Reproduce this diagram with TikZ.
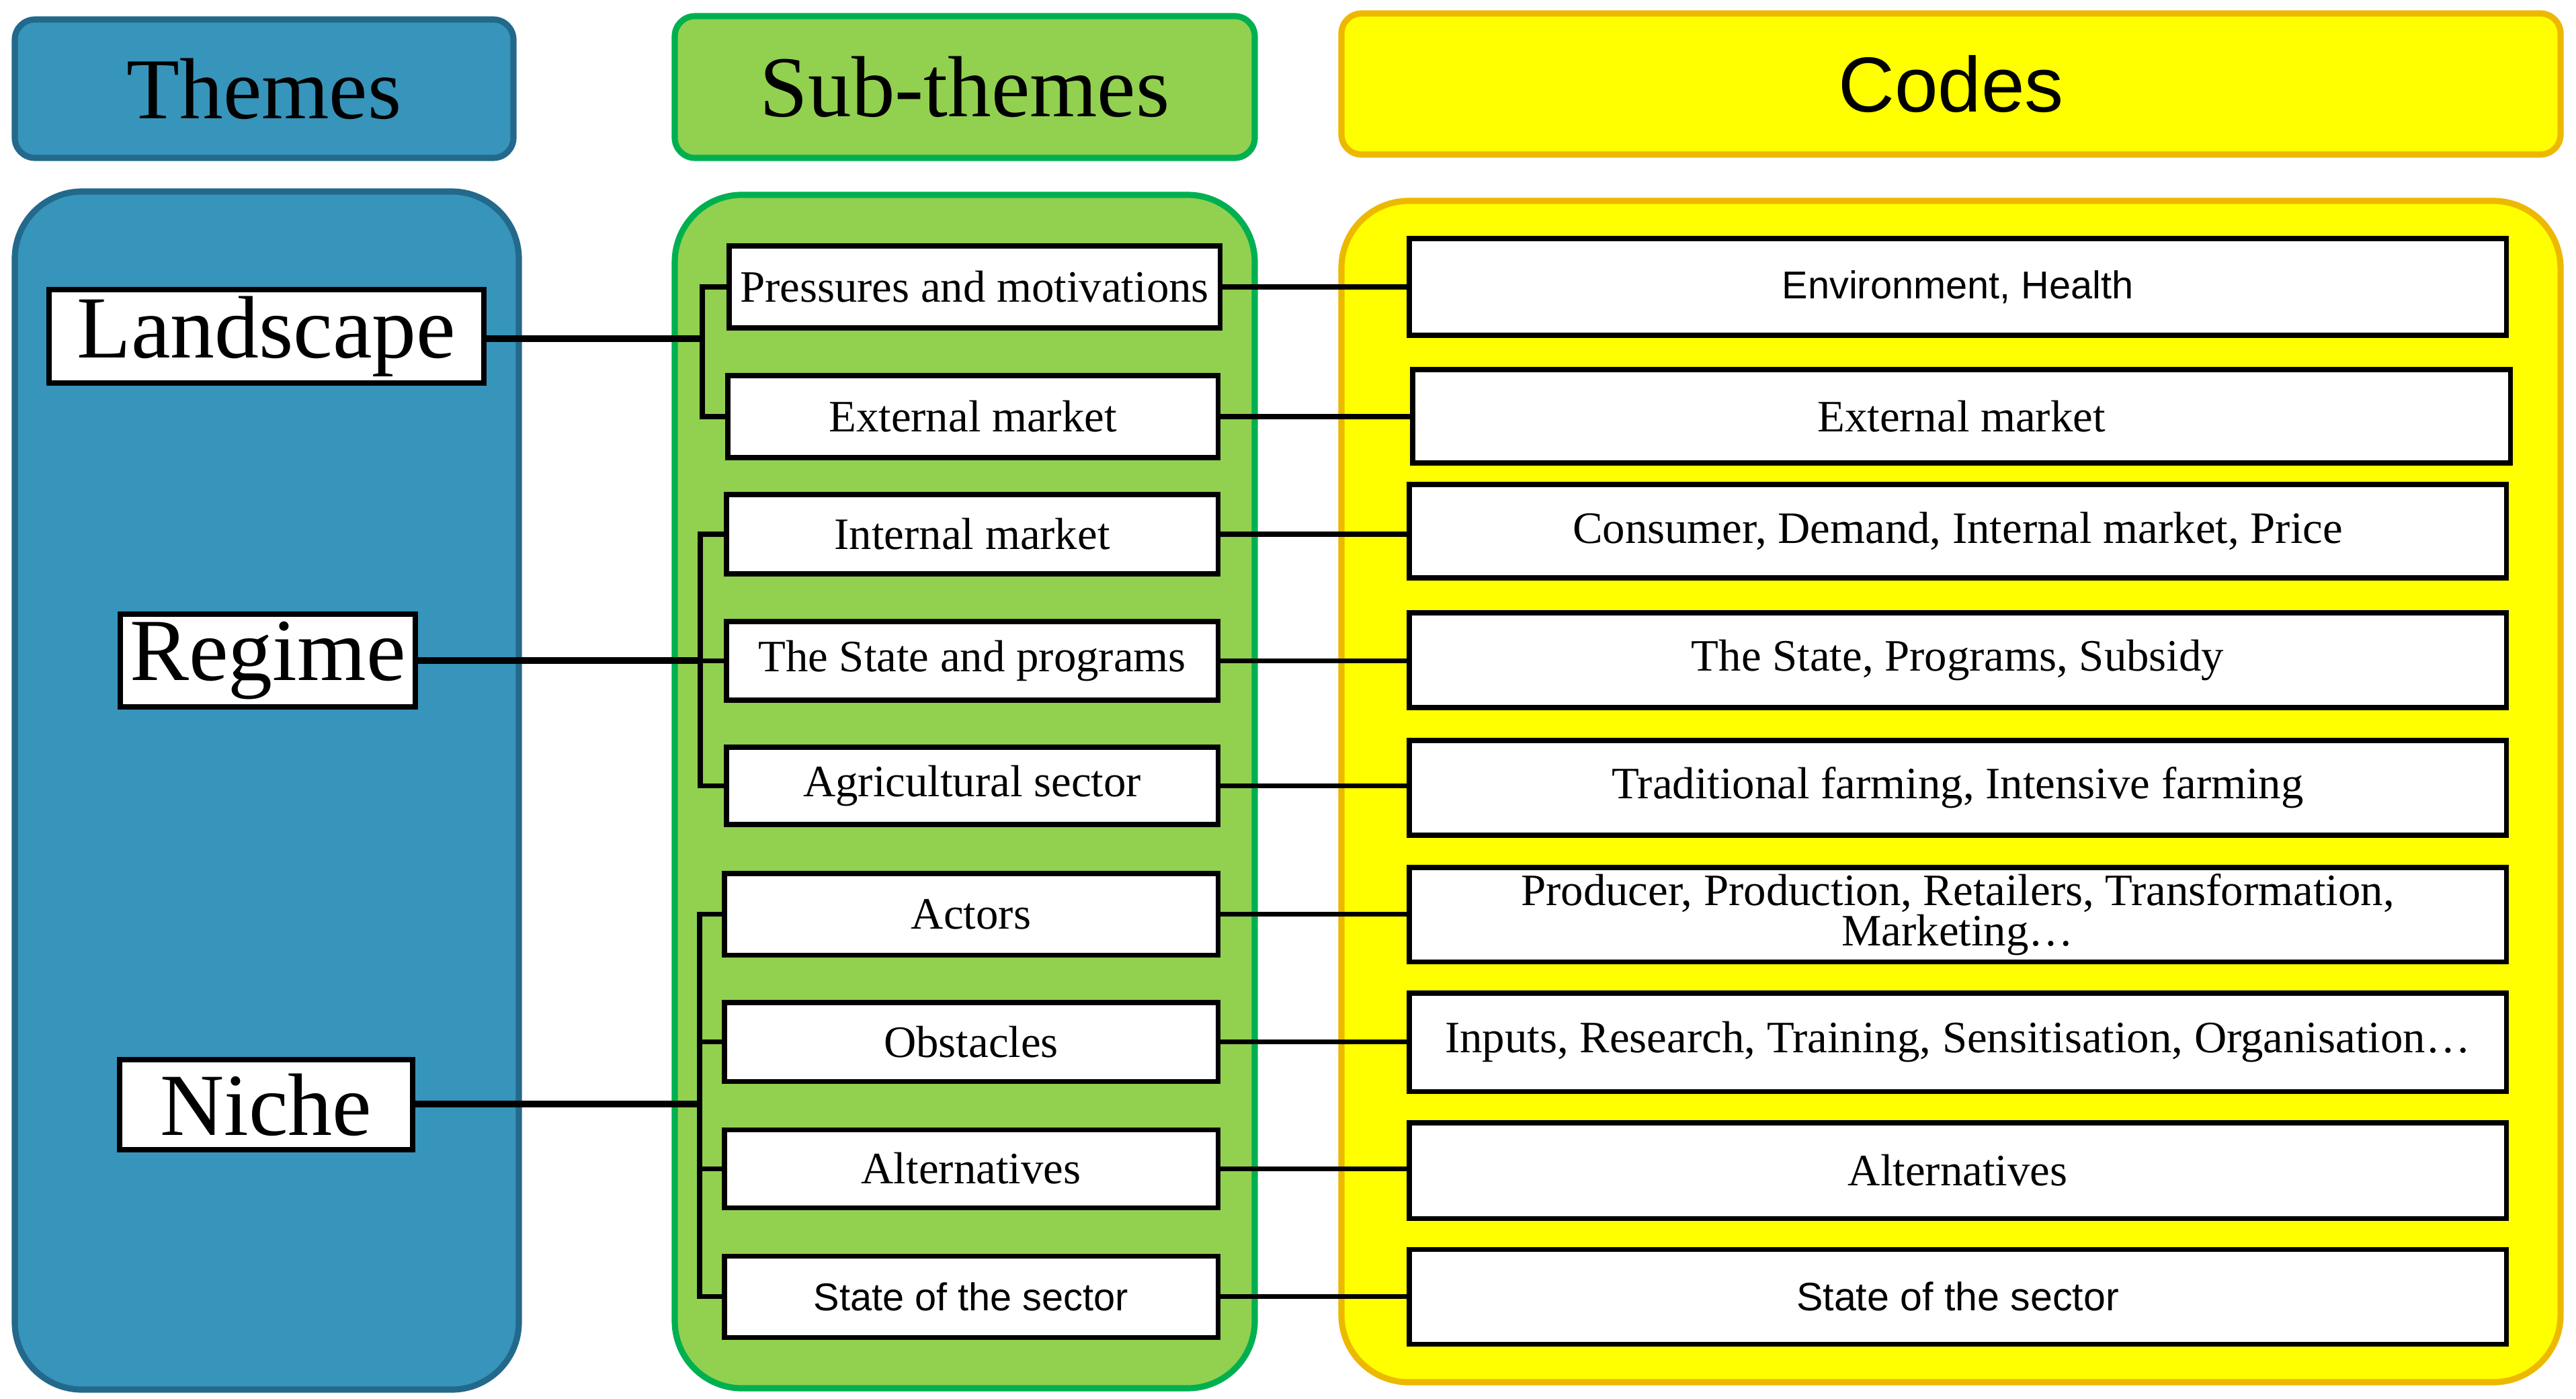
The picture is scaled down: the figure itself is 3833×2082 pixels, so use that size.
\documentclass[tikz,border=0pt]{standalone}
\usepackage{fontspec}
\setmainfont{Liberation Serif}
\newfontfamily\sansf{Liberation Sans}
\definecolor{tblue}{HTML}{3794BA}
\definecolor{tblueb}{HTML}{23698B}
\definecolor{tgreen}{HTML}{92D050}
\definecolor{tgreenb}{HTML}{00B050}
\definecolor{tyellow}{HTML}{FFFF00}
\definecolor{tyellowb}{HTML}{EDB800}
\newcommand{\bx}[7]{%
  \pgfmathsetmacro\bxcx{(#2+#4)/2}%
  \pgfmathsetmacro\bxcy{(#3+#5)/2}%
  \pgfmathsetmacro\bxw{(#4-#2)*0.01}%
  \pgfmathsetmacro\bxh{(#5-#3)*0.01}%
  \node[#6, minimum width=\bxw cm, minimum height=\bxh cm] (#1) at (\bxcx,\bxcy) {#7};}
\begin{document}
\begin{tikzpicture}[x=0.01cm,y=-0.01cm,
  hdr/.style={draw, line width=2.6pt, rounded corners=0.3cm, inner sep=0pt},
  big/.style={draw, line width=2.6pt, rounded corners=1cm, inner sep=0pt},
  tbox/.style={draw=black, line width=2.2pt, fill=white, inner sep=0pt, font=\fontsize{37.5}{40}\selectfont},
  sbox/.style={draw=black, line width=2pt, fill=white, inner sep=0pt, align=center, font=\fontsize{19}{19}\selectfont},
  sbsans/.style={sbox, font=\sansf\fontsize{16.4}{18}\selectfont},
  conn/.style={line width=2pt, black, line join=miter},
  tconn/.style={line width=2.8pt, black}]
\useasboundingbox (0,0) rectangle (3833,2082);
% headers
\bx{hT}{22}{29}{764}{235}{hdr, draw=tblueb, fill=tblue, font=\fontsize{36.7}{40}\selectfont}{Themes}
\bx{hS}{1004}{24}{1867}{235}{hdr, draw=tgreenb, fill=tgreen, font=\fontsize{36.7}{40}\selectfont}{Sub-themes}
\bx{hC}{1996}{20}{3810}{230}{hdr, draw=tyellowb, fill=tyellow, font=\sansf\fontsize{33}{36}\selectfont}{Codes}
% containers
\bx{cT}{22}{285}{772}{2068}{big, draw=tblueb, fill=tblue}{}
\bx{cS}{1004}{290}{1867}{2066}{big, draw=tgreenb, fill=tgreen}{}
\bx{cC}{1996}{299}{3810}{2057}{big, draw=tyellowb, fill=tyellow}{}
% themes
\bx{land}{73}{431}{720}{570}{tbox}{Landscape}
\bx{reg}{179}{914}{618}{1052}{tbox}{Regime}
\bx{nic}{178}{1577}{614}{1711}{tbox}{Niche}
% sub-themes
\bx{s1}{1085}{366}{1815}{488}{sbox}{Pressures and motivations}
\bx{s2}{1083}{559}{1812}{681}{sbox}{External market}
\bx{s3}{1081}{736}{1812}{854}{sbox}{Internal market}
\bx{s4}{1081}{925}{1812}{1042}{sbox}{The State and programs}
\bx{s5}{1081}{1112}{1812}{1227}{sbox}{Agricultural sector}
\bx{s6}{1078}{1300}{1812}{1421}{sbox}{Actors}
\bx{s7}{1078}{1492}{1812}{1609}{sbox}{Obstacles}
\bx{s8}{1078}{1681}{1812}{1797}{sbox}{Alternatives}
\bx{s9}{1078}{1869}{1812}{1990}{sbsans}{State of the sector}
% codes
\bx{c1}{2097}{355}{3729}{499}{sbsans}{Environment, Health}
\bx{c2}{2102}{550}{3735}{689}{sbox}{External market}
\bx{c3}{2097}{721}{3729}{860}{sbox}{Consumer, Demand, Internal market, Price}
\bx{c4}{2097}{912}{3729}{1053}{sbox}{The State, Programs, Subsidy}
\bx{c5}{2097}{1102}{3729}{1243}{sbox}{Traditional farming, Intensive farming}
\bx{c6}{2097}{1291}{3729}{1431}{sbox}{Producer, Production, Retailers, Transformation,\\[-2pt] Marketing\dots}
\bx{c7}{2097}{1478}{3729}{1624}{sbox}{Inputs, Research, Training, Sensitisation, Organisation\dots}
\bx{c8}{2097}{1671}{3729}{1813}{sbox}{Alternatives}
\bx{c9}{2097}{1859}{3729}{2000}{sbox, font=\sansf\fontsize{16.8}{18}\selectfont}{State of the sector}
% bracket coordinates
\coordinate (bL) at (1045,504);
\coordinate (bR) at (1042,983);
\coordinate (bN) at (1041,1643);
% theme connectors
\draw[tconn] (land.east |- bL) -- (bL);
\draw[tconn] (reg.east |- bR) -- (bR);
\draw[tconn] (nic.east |- bN) -- (bN);
% brackets
\draw[conn] (s1.west) -- (s1.west -| bL) -- (s2.west -| bL) -- (s2.west);
\draw[conn] (s3.west) -- (s3.west -| bR) -- (s5.west -| bR) -- (s5.west);
\draw[conn] (s4.west -| bR) -- (s4.west);
\draw[conn] (s6.west) -- (s6.west -| bN) -- (s9.west -| bN) -- (s9.west);
\draw[conn] (s7.west -| bN) -- (s7.west);
\draw[conn] (s8.west -| bN) -- (s8.west);
% code connectors
\foreach \i in {1,...,9}{\draw[conn] (s\i.east) -- (s\i.east -| c\i.west);}
\end{tikzpicture}
\end{document}
